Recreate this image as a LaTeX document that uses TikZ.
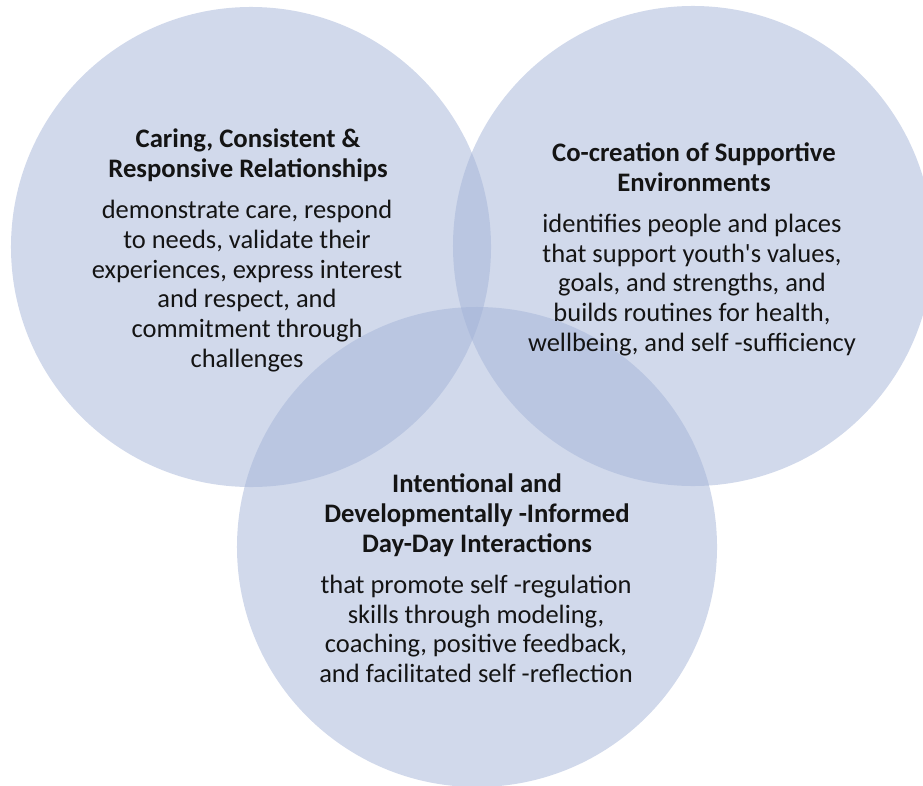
\documentclass[tikz,border=0pt]{standalone}
\usepackage{fontspec}
\setmainfont{Carlito}

\definecolor{vennfill}{RGB}{163,179,215}
\definecolor{inktext}{RGB}{20,20,20}

\tikzset{
  vennset/.style={circle, fill=vennfill, fill opacity=0.5, draw=none,
    inner sep=0pt, minimum size=14.4cm},
  headtext/.style={align=center, inner sep=0pt, text=inktext,
    font=\bfseries\fontsize{22.8}{25.8}\selectfont},
  bodytext/.style={align=center, inner sep=0pt, text=inktext,
    font=\fontsize{22.6}{25.3}\selectfont}
}

\begin{document}
\begin{tikzpicture}[x=0.03cm,y=-0.03cm]

% Frame of the picture
\useasboundingbox (0,0) rectangle (923,786);
\clip (0,0) rectangle (923,786);

% The three sets
\node[vennset] (care) at (251,247) {};
\node[vennset] (envir) at (693,246) {};
\node[vennset] (inter) at (477,547) {};

% Relationships
\node[headtext] (carehead) at (248,155)
  {Caring, Consistent \&\\Responsive Relationships};
\node[bodytext] (carebody) at (247,286)
  {demonstrate care, respond\\to needs, validate their\\experiences, express interest\\and respect, and\\commitment through\\challenges};

% Environments
\node[headtext] (envirhead) at (694,167)
  {Co-creation of Supportive\\Environments};
\node[bodytext] (envirbody) at (692,285)
  {identifies people and places\\that support youth\textquotesingle s values,\\goals, and strengths, and\\builds routines for health,\\wellbeing, and self -sufficiency};

% Interactions
\node[headtext] (interhead) at (477,515)
  {Intentional and\\Developmentally -Informed\\Day-Day Interactions};
\node[bodytext] (interbody) at (476,629)
  {that promote self -regulation\\skills through modeling,\\coaching, positive feedback,\\and facilitated self -reflection};

\end{tikzpicture}
\end{document}
